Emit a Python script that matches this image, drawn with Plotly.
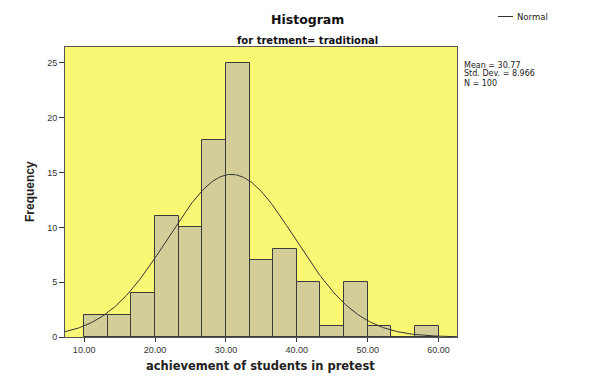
import numpy as np
import plotly.graph_objects as go

# Data
bin_start = 10.0
bin_width = 10.0 / 3.0
counts = [2, 2, 4, 11, 10, 18, 25, 7, 8, 5, 1, 5, 1, 0, 1]
mean_val = 30.77
sd_val = 8.966
n_val = 100
x_tickvals = [10, 20, 30, 40, 50, 60]
x_ticktext = ["10.00", "20.00", "30.00", "40.00", "50.00", "60.00"]
y_tickvals = [0, 5, 10, 15, 20, 25]
stats_lines = [f"Mean = {mean_val}", f"Std. Dev. = {sd_val}", f"N = {n_val}"]

centers = [bin_start + bin_width * (i + 0.5) for i in range(len(counts))]

x_range = [7.3, 62.6]
xs = np.linspace(x_range[0], x_range[1], 300)
ys = n_val * bin_width / (sd_val * np.sqrt(2 * np.pi)) * np.exp(-0.5 * ((xs - mean_val) / sd_val) ** 2)

# page body has an 8px margin; target pixel coordinates are page coordinates
OFF = 8
W, H = 593 - OFF, 379 - OFF
PL, PR, PT, PB = 65, 457, 47, 337  # plot area in page pixels
L = PL - OFF
T = PT - OFF
R = W - (PR - OFF)
B = H - (PB - OFF)
PW, PH = W - L - R, H - T - B

def px(x):
    return (x - OFF - L) / PW

def py(y):
    return (H - B - (y - OFF)) / PH

WIDE = "DejaVu Sans, Verdana, sans-serif"
NARROW = "Liberation Sans, Arial, sans-serif"

fig = go.Figure()
fig.add_trace(go.Bar(
    x=centers, y=counts, width=bin_width,
    marker=dict(color="#D3CE98", line=dict(color="#3a3a3a", width=1)),
    showlegend=False, hoverinfo="skip"))
fig.add_trace(go.Scatter(
    x=xs, y=ys, mode="lines",
    line=dict(color="#333333", width=1), showlegend=False, hoverinfo="skip"))

annotations = [
    dict(text="<b>Histogram</b>", x=px(307), y=py(19), xref="paper", yref="paper",
         xanchor="center", yanchor="middle", showarrow=False,
         font=dict(family=WIDE, size=12.5, color="#111")),
    dict(text="<b>for tretment= traditional</b>", xref="paper", yref="paper",
         x=px(307), y=py(40), xanchor="center", yanchor="middle", showarrow=False,
         font=dict(family=WIDE, size=10, color="#111")),
    dict(text="Normal", xref="paper", yref="paper", x=px(515),
         y=py(16.5), xanchor="left", yanchor="middle", showarrow=False,
         font=dict(family=WIDE, size=8.5, color="#222")),
    dict(text="<b>achievement of students in pretest</b>", xref="paper", yref="paper",
         x=px(260), y=py(366), xanchor="center", yanchor="middle", showarrow=False,
         font=dict(family=WIDE, size=11.5, color="#222")),
    dict(text="<b>Frequency</b>", xref="paper", yref="paper",
         x=px(30), y=py(192), xanchor="center", yanchor="middle", showarrow=False,
         textangle=-90, font=dict(family=NARROW, size=12, color="#222")),
]
for i, line in enumerate(stats_lines):
    annotations.append(dict(
        text=line, xref="paper", yref="paper", x=px(462), y=py(65 + 9 * i),
        xanchor="left", yanchor="middle", showarrow=False,
        font=dict(family=WIDE, size=8, color="#222")))

fig.update_layout(
    width=W, height=H,
    margin=dict(l=L, r=R, t=T, b=B, autoexpand=False),
    paper_bgcolor="white", plot_bgcolor="#FAF774",
    bargap=0,
    font=dict(family=NARROW, color="#222"),
    xaxis=dict(range=x_range, tickvals=x_tickvals, ticktext=x_ticktext,
               automargin=False,
               showgrid=False, zeroline=False, showline=True, mirror=True,
               linecolor="#555", linewidth=1, ticks="outside", ticklen=4,
               tickcolor="#333", tickfont=dict(size=9, color="#333")),
    yaxis=dict(range=[0, 26.45], tickvals=y_tickvals, automargin=False,
               showgrid=False, zeroline=False, showline=True, mirror=True,
               linecolor="#555", linewidth=1, ticks="outside", ticklen=5,
               tickcolor="#333", tickfont=dict(size=9, color="#333")),
    annotations=annotations,
)
fig.add_shape(type="line", xref="paper", yref="paper",
              x0=px(498), x1=px(513), y0=py(16.5), y1=py(16.5),
              line=dict(color="#333", width=1))

fig.write_html("out.html")
